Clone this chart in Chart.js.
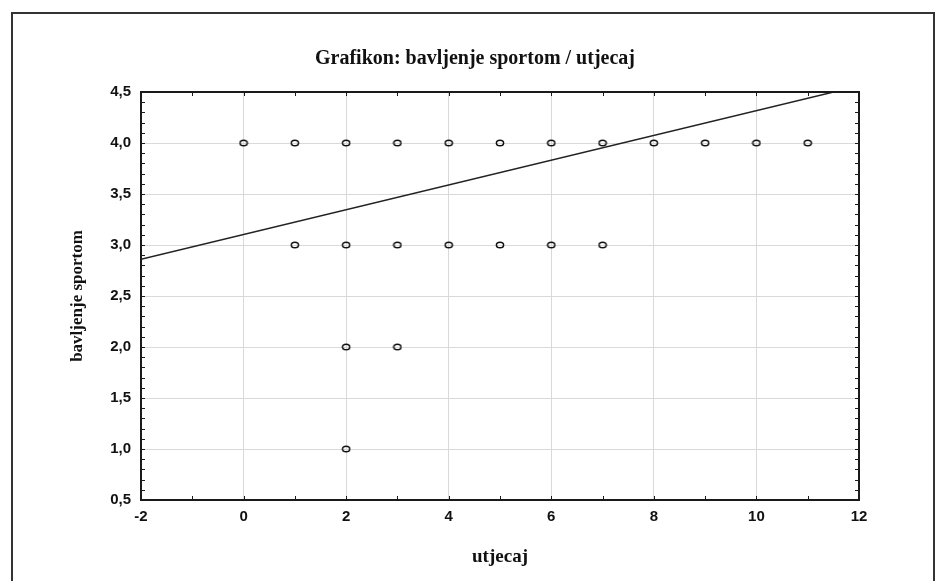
<!DOCTYPE html>
<html>
<head>
<meta charset="utf-8">
<script src="https://cdn.jsdelivr.net/npm/chart.js@4/dist/chart.umd.min.js"></script>
<style>
  html, body { margin: 0; padding: 0; background: #fff; overflow: hidden; }
  #wrap { position: relative; width: 947px; height: 581px; }
  #frame {
    position: absolute; left: 11px; top: 12px; width: 924px; height: 600px;
    box-sizing: border-box; border: 2px solid #333; border-bottom: none;
    pointer-events: none;
  }
</style>
</head>
<body>
<div id="wrap">
  <canvas id="chart"></canvas>
  <div id="frame"></div>
</div>
<script>
// utjecaj (x) vs bavljenje sportom (y)
const pointsX = [0, 1, 2, 3, 4, 5, 6, 7, 8, 9, 10, 11, 1, 2, 3, 4, 5, 6, 7, 2, 3, 2];
const pointsY = [4, 4, 4, 4, 4, 4, 4, 4, 4, 4, 4, 4, 3, 3, 3, 3, 3, 3, 3, 2, 2, 1];

// regression line at both ends of the x range
const fitX = [-2, 12];
const fitY = [2.86, 4.56];

const xTicks = [-2, 0, 2, 4, 6, 8, 10, 12];
const xTickLabels = ['-2', '0', '2', '4', '6', '8', '10', '12'];
const yTicks = [0.5, 1, 1.5, 2, 2.5, 3, 3.5, 4, 4.5];
const yTickLabels = ['0,5', '1,0', '1,5', '2,0', '2,5', '3,0', '3,5', '4,0', '4,5'];

// small open ellipse used as the point marker
function makeMarker() {
    const c = document.createElement('canvas');
    c.width = 10;
    c.height = 8;
    const g = c.getContext('2d');
    g.strokeStyle = '#111';
    g.lineWidth = 1.5;
    g.beginPath();
    g.ellipse(5, 4, 3.6, 2.8, 0, 0, Math.PI * 2);
    g.stroke();
    return c;
}

// plot frame + small inward ticks on all four sides
const frameTicks = {
    id: 'frameTicks',
    afterDatasetsDraw(chart) {
        const { ctx, chartArea: a, scales: { x, y } } = chart;
        ctx.save();
        ctx.strokeStyle = '#1a1a1a';
        ctx.lineWidth = 1;
        ctx.beginPath();
        for (let v = x.min; v <= x.max + 1e-9; v += 1) {
            const px = Math.round(x.getPixelForValue(v)) + 0.5;
            ctx.moveTo(px, a.bottom); ctx.lineTo(px, a.bottom - 4);
            ctx.moveTo(px, a.top); ctx.lineTo(px, a.top + 4);
        }
        for (let i = 0; i <= Math.round((y.max - y.min) / 0.1); i++) {
            const py = Math.round(y.getPixelForValue(y.min + i * 0.1)) + 0.5;
            ctx.moveTo(a.left, py); ctx.lineTo(a.left + 4, py);
            ctx.moveTo(a.right, py); ctx.lineTo(a.right - 4, py);
        }
        ctx.stroke();
        ctx.lineWidth = 2;
        ctx.strokeRect(a.left, a.top, a.right - a.left, a.bottom - a.top);
        ctx.restore();
    }
};

const scatterPoints = pointsX.map((v, i) => ({ x: v, y: pointsY[i] }));
const fitPoints = fitX.map((v, i) => ({ x: v, y: fitY[i] }));

const tickFont = { family: 'Liberation Sans', size: 15, weight: 'bold' };

new Chart(document.getElementById('chart'), {
    type: 'scatter',
    data: {
        datasets: [
            {
                label: 'fit',
                data: fitPoints,
                showLine: true,
                borderColor: '#222',
                borderWidth: 1.5,
                pointRadius: 0,
                fill: false
            },
            {
                label: 'bavljenje sportom',
                data: scatterPoints,
                pointStyle: makeMarker(),
                pointRadius: 4
            }
        ]
    },
    options: {
        responsive: true,
        maintainAspectRatio: false,
        animation: false,
        // left padding shifts the centred title to where it sits in the original
        layout: { padding: { left: 91, right: 88, top: 0, bottom: 0 } },
        plugins: {
            legend: { display: false },
            tooltip: { enabled: false },
            title: {
                display: true,
                text: 'Grafikon: bavljenje sportom / utjecaj',
                color: '#111',
                font: { family: 'Liberation Serif', size: 20, weight: 'bold' },
                padding: { top: 47, bottom: 21 }
            }
        },
        scales: {
            x: {
                type: 'linear',
                min: -2,
                max: 12,
                afterBuildTicks: s => { s.ticks = xTicks.map(v => ({ value: v })); },
                afterFit: s => { s.height = 81; },
                ticks: {
                    color: '#111',
                    font: tickFont,
                    padding: 8,
                    maxRotation: 0,
                    callback: (v, i) => xTickLabels[i]
                },
                grid: { color: '#d9d9d9', lineWidth: 1, drawTicks: false },
                border: { display: false },
                title: {
                    display: true,
                    text: 'utjecaj',
                    color: '#111',
                    font: { family: 'Liberation Serif', size: 19, weight: 'bold' },
                    padding: { top: 0, bottom: 13 }
                }
            },
            y: {
                type: 'linear',
                min: 0.5,
                max: 4.5,
                afterBuildTicks: s => { s.ticks = yTicks.map(v => ({ value: v })); },
                afterFit: s => { s.width = 50; },
                ticks: {
                    color: '#111',
                    font: tickFont,
                    padding: 10,
                    callback: (v, i) => yTickLabels[i]
                },
                grid: { color: '#d9d9d9', lineWidth: 1, drawTicks: false },
                border: { display: false },
                title: {
                    display: true,
                    text: 'bavljenje sportom',
                    color: '#111',
                    font: { family: 'Liberation Serif', size: 17, weight: 'bold' },
                    padding: { top: -24, bottom: 0 }
                }
            }
        }
    },
    plugins: [frameTicks]
});
</script>
</body>
</html>
